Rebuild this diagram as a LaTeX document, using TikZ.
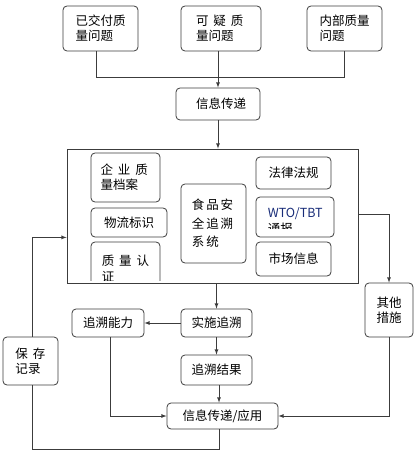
\documentclass[tikz,border=0pt]{standalone}
\usepackage{fontspec}
\setmainfont{Noto Sans CJK SC}
\usetikzlibrary{calc,positioning,arrows}
\definecolor{linegray}{RGB}{60,60,60}
\definecolor{wtoblue}{RGB}{24,44,120}
\tikzset{
  box/.style={
    draw=linegray,
    line width=0.8pt,
    rounded corners=4pt,
    rectangle,
    inner sep=0pt,
    align=left,
    font=\fontsize{12.5}{15}\selectfont
  },
  link/.style={draw=linegray, line width=0.8pt},
  arrow/.style={link,-latex}
}
\newcommand{\gap}{\hspace{0.4em}}

\begin{document}
\begin{tikzpicture}[x=1pt,y=-1pt]
  \useasboundingbox (0,0) rectangle (415,457);

  \node (q1) [box, minimum width=75pt, minimum height=45pt] at (100.5,28.5) {已交付质\\量问题\phantom{量}};
  \node (q2) [box, minimum width=80pt, minimum height=45pt] at (221,28.5) {可\gap 疑\gap 质\\量问题\phantom{量}};
  \node (q3) [box, minimum width=75pt, minimum height=45pt] at (344.5,28.5) {内部质量\\问题\phantom{质量}};

  \node (info) [box, minimum width=84pt, minimum height=32pt] at (218,104) {\hspace{6pt}信息传递};

  \node (sys) [draw=linegray, line width=0.8pt, rectangle, minimum width=291pt, minimum height=134pt] at (212.5,216) {};

  \node (dossier) [box, minimum width=69pt, minimum height=49pt] at (125.5,177.5) {企\gap 业\gap 质\\量档案\phantom{量}};
  \node (logi) [box, minimum width=76pt, minimum height=29pt] at (129,222.5) {物流标识};
  \begin{scope}
    \clip (sys.north west) rectangle ([yshift=3pt]sys.south east);
    \node (cert) [box, minimum width=69pt, minimum height=54pt] at (125.5,269) {质\gap 量\gap 认\\[1pt]证\phantom{\gap 量\gap 认}};
  \end{scope}
  \node (core) [box, minimum width=65pt, minimum height=79pt, font=\fontsize{12.5}{18.5}\selectfont] at (213.5,223.5) {食\hspace{0.15em}品\hspace{0.15em}安\\全\hspace{0.15em}追\hspace{0.15em}溯\\系\hspace{0.15em}统\phantom{\hspace{0.3em}安}};

  \node (law) [box, minimum width=75pt, minimum height=32pt] at (293.5,173) {法律法规};
  \node (wto) [box, minimum width=78pt, minimum height=40pt] at (295,217) {};
  \begin{scope}
    \clip (wto.north west) rectangle ([yshift=9pt]wto.south east);
    \node (wtotext) [anchor=west, align=left, inner sep=0pt, font=\fontsize{12.5}{16}\selectfont] at ([xshift=12pt,yshift=-4pt]wto.west) {\textcolor{wtoblue}{WTO/TBT}\\通报};
  \end{scope}
  \node (market) [box, minimum width=75pt, minimum height=34pt] at (293.5,259) {市场信息};

  \node (other) [box, minimum width=48pt, minimum height=54pt] at (389,310) {其他\\措施};
  \node (impl) [box, minimum width=71pt, minimum height=28pt] at (216.5,323) {实施追溯};
  \node (abil) [box, minimum width=72pt, minimum height=28pt] at (108,323) {追溯能力};
  \node (result) [box, minimum width=71pt, minimum height=30pt] at (216.5,370) {追溯结果};
  \node (app) [box, minimum width=111pt, minimum height=26pt] at (222.5,416) {信息传递/应用};
  \node (keep) [box, minimum width=55pt, minimum height=48pt] at (30.5,361) {保\gap 存\\记录\phantom{\gap}};

  \coordinate (bus) at (0,77);
  \draw[link] ([xshift=-4.5pt]q1.south) |- (bus -| q3.south) -- (q3.south);
  \draw[arrow] (info.north |- q2.south) -- (info.north);
  \draw[arrow] (info.south) -- (info.south |- sys.north);

  \draw[arrow] ([yshift=2pt]sys.east) -| (other.north);
  \draw[arrow] (impl.north |- sys.south) -- (impl.north);
  \draw[arrow] (impl.west) -- (abil.east);
  \draw[arrow] (impl.south) -- (result.north);
  \draw[arrow] ([xshift=2.5pt]result.south) -- ([xshift=2.5pt]result.south |- app.north);

  \draw[arrow] ([xshift=2pt]abil.south) |- (app.west);
  \draw[arrow] (other.south) |- (app.east);

  \draw[link] ([xshift=-3.5pt]app.south) -- ++(0,20) -| ([xshift=1.5pt]keep.south);
  \draw[arrow] ([xshift=1.5pt]keep.north) |- (sys.west |- logi.south);

\end{tikzpicture}
\end{document}
